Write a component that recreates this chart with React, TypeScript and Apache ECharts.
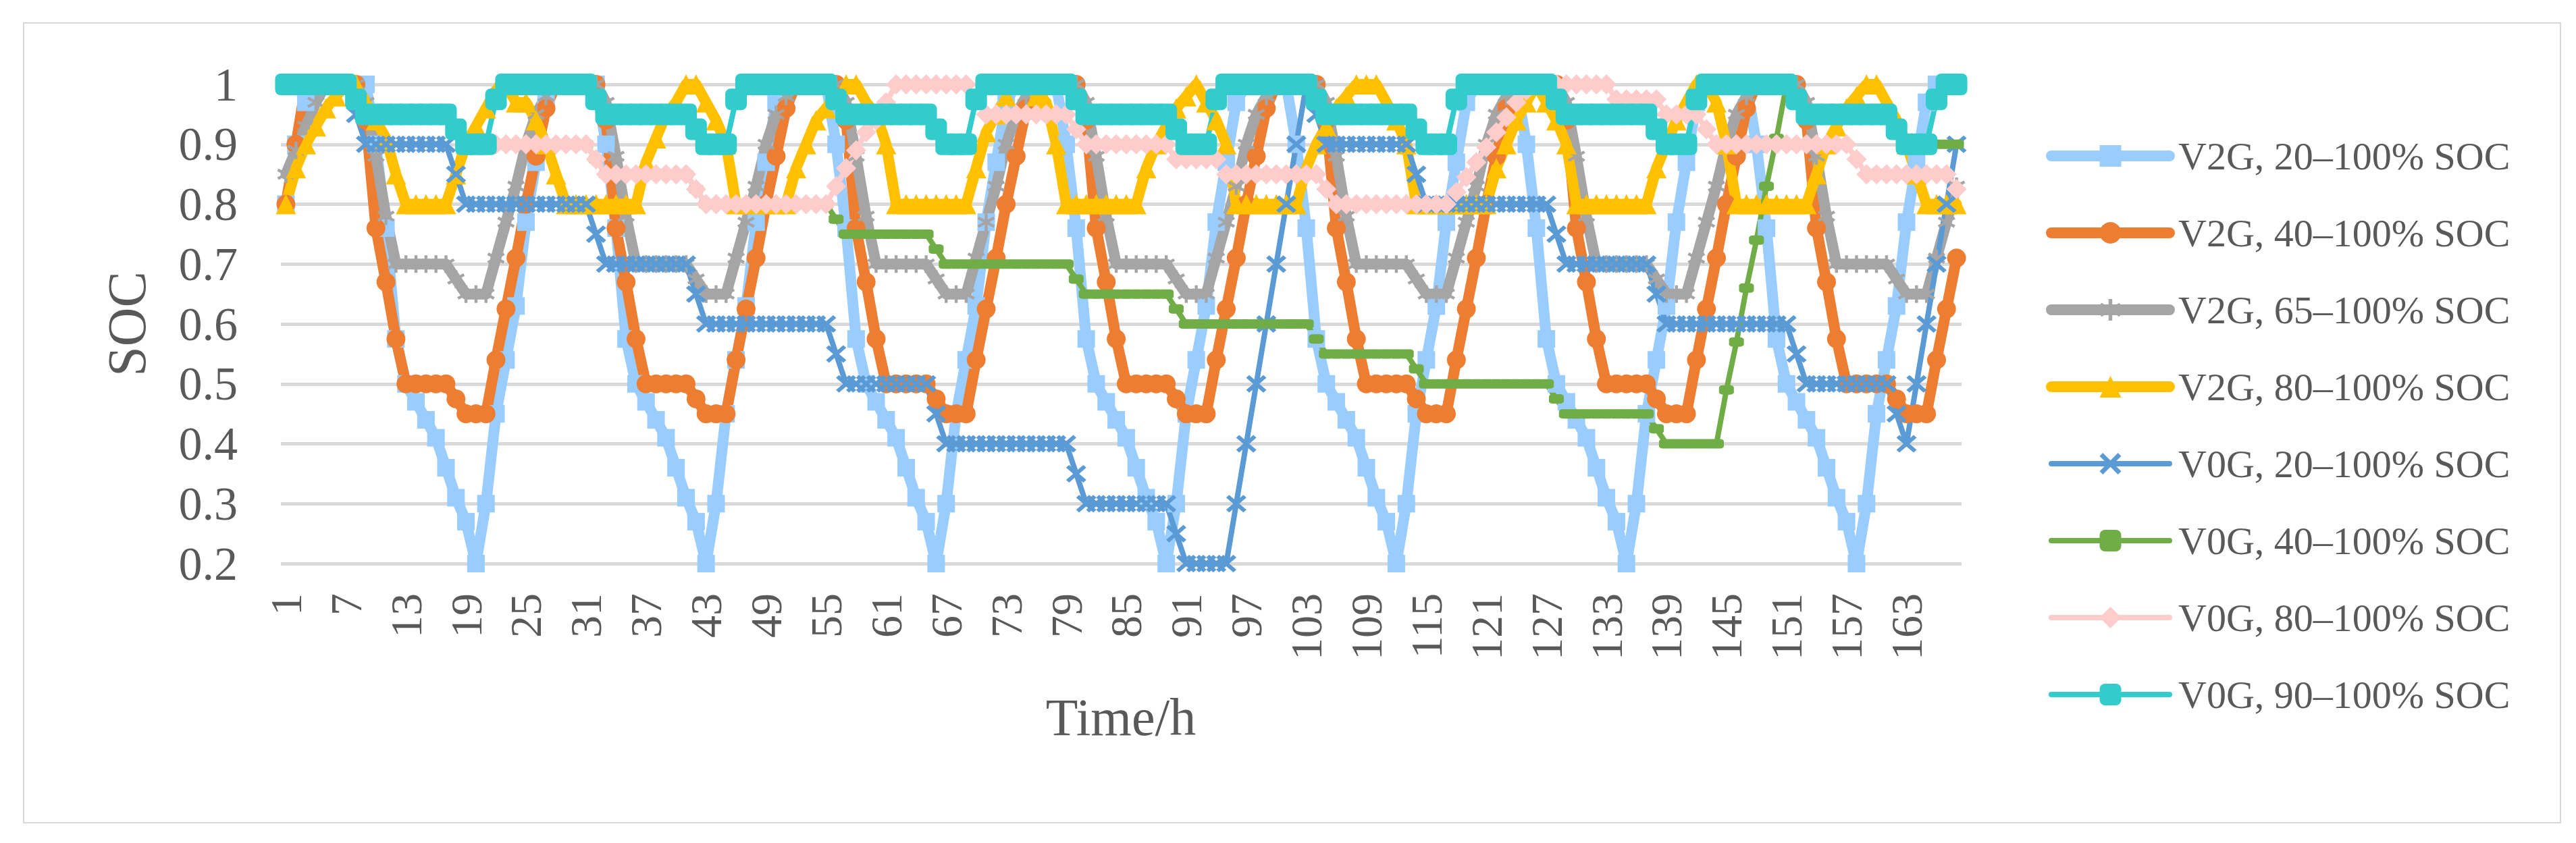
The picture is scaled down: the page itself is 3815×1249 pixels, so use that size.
import React, { useEffect, useRef } from 'react';
import * as echarts from 'echarts';

const hours = Array.from({ length: 168 }, (_, i) => String(i + 1));

const seriesNames = [
  'V2G, 20–100% SOC',
  'V2G, 40–100% SOC',
  'V2G, 65–100% SOC',
  'V2G, 80–100% SOC',
  'V0G, 20–100% SOC',
  'V0G, 40–100% SOC',
  'V0G, 80–100% SOC',
  'V0G, 90–100% SOC',
];

const v2g20 = [
  0.8, 0.9, 0.97, 1, 1, 1, 1, 1, 1,
  0.9, 0.76, 0.575, 0.5, 0.47, 0.44, 0.41, 0.36, 0.31, 0.27, 0.2, 0.3, 0.45, 0.54, 0.63, 0.77, 0.87, 0.97, 1, 1, 1, 1, 1,
  0.9, 0.76, 0.575, 0.5, 0.47, 0.44, 0.41, 0.36, 0.31, 0.27, 0.2, 0.3, 0.45, 0.54, 0.63, 0.77, 0.87, 0.97, 1, 1, 1, 1, 1,
  0.9, 0.76, 0.575, 0.5, 0.47, 0.44, 0.41, 0.36, 0.31, 0.27, 0.2, 0.3, 0.45, 0.54, 0.63, 0.77, 0.87, 0.97, 1, 1, 1, 1, 1,
  0.9, 0.76, 0.575, 0.5, 0.47, 0.44, 0.41, 0.36, 0.31, 0.27, 0.2, 0.3, 0.45, 0.54, 0.63, 0.77, 0.87, 0.97, 1, 1, 1, 1, 1,
  0.9, 0.76, 0.575, 0.5, 0.47, 0.44, 0.41, 0.36, 0.31, 0.27, 0.2, 0.3, 0.45, 0.54, 0.63, 0.77, 0.87, 0.97, 1, 1, 1, 1, 1,
  0.9, 0.76, 0.575, 0.5, 0.47, 0.44, 0.41, 0.36, 0.31, 0.27, 0.2, 0.3, 0.45, 0.54, 0.63, 0.77, 0.87, 0.97, 1, 1, 1, 1, 1,
  0.9, 0.76, 0.575, 0.5, 0.47, 0.44, 0.41, 0.36, 0.31, 0.27, 0.2, 0.3, 0.45, 0.54, 0.63, 0.77, 0.87, 0.97, 1, 1, 1,
];

const v2g40 = [
  0.8, 0.9, 1, 1, 1, 1, 1, 1,
  0.94, 0.76, 0.67, 0.575, 0.5, 0.5, 0.5, 0.5, 0.5, 0.475, 0.45, 0.45, 0.45, 0.54, 0.625, 0.71, 0.8, 0.88, 0.96, 1, 1, 1, 1, 1,
  0.94, 0.76, 0.67, 0.575, 0.5, 0.5, 0.5, 0.5, 0.5, 0.475, 0.45, 0.45, 0.45, 0.54, 0.625, 0.71, 0.8, 0.88, 0.96, 1, 1, 1, 1, 1,
  0.94, 0.76, 0.67, 0.575, 0.5, 0.5, 0.5, 0.5, 0.5, 0.475, 0.45, 0.45, 0.45, 0.54, 0.625, 0.71, 0.8, 0.88, 0.96, 1, 1, 1, 1, 1,
  0.94, 0.76, 0.67, 0.575, 0.5, 0.5, 0.5, 0.5, 0.5, 0.475, 0.45, 0.45, 0.45, 0.54, 0.625, 0.71, 0.8, 0.88, 0.96, 1, 1, 1, 1, 1,
  0.94, 0.76, 0.67, 0.575, 0.5, 0.5, 0.5, 0.5, 0.5, 0.475, 0.45, 0.45, 0.45, 0.54, 0.625, 0.71, 0.8, 0.88, 0.96, 1, 1, 1, 1, 1,
  0.94, 0.76, 0.67, 0.575, 0.5, 0.5, 0.5, 0.5, 0.5, 0.475, 0.45, 0.45, 0.45, 0.54, 0.625, 0.71, 0.8, 0.88, 0.96, 1, 1, 1, 1, 1,
  0.94, 0.76, 0.67, 0.575, 0.5, 0.5, 0.5, 0.5, 0.5, 0.475, 0.45, 0.45, 0.45, 0.54, 0.625, 0.71,
];

const v2g65 = [
  0.85, 0.89, 0.93, 0.97, 1, 1, 1, 1,
  0.97, 0.88, 0.78, 0.7, 0.7, 0.7, 0.7, 0.7, 0.7, 0.675, 0.65, 0.65, 0.65, 0.71, 0.77, 0.83, 0.9, 0.95, 0.98, 1, 1, 1, 1, 1,
  0.97, 0.88, 0.78, 0.7, 0.7, 0.7, 0.7, 0.7, 0.7, 0.675, 0.65, 0.65, 0.65, 0.71, 0.77, 0.83, 0.9, 0.95, 0.98, 1, 1, 1, 1, 1,
  0.97, 0.88, 0.78, 0.7, 0.7, 0.7, 0.7, 0.7, 0.7, 0.675, 0.65, 0.65, 0.65, 0.71, 0.77, 0.83, 0.9, 0.95, 0.98, 1, 1, 1, 1, 1,
  0.97, 0.88, 0.78, 0.7, 0.7, 0.7, 0.7, 0.7, 0.7, 0.675, 0.65, 0.65, 0.65, 0.71, 0.77, 0.83, 0.9, 0.95, 0.98, 1, 1, 1, 1, 1,
  0.97, 0.88, 0.78, 0.7, 0.7, 0.7, 0.7, 0.7, 0.7, 0.675, 0.65, 0.65, 0.65, 0.71, 0.77, 0.83, 0.9, 0.95, 0.98, 1, 1, 1, 1, 1,
  0.97, 0.88, 0.78, 0.7, 0.7, 0.7, 0.7, 0.7, 0.7, 0.675, 0.65, 0.65, 0.65, 0.71, 0.77, 0.83, 0.9, 0.95, 0.98, 1, 1, 1, 1, 1,
  0.97, 0.88, 0.78, 0.7, 0.7, 0.7, 0.7, 0.7, 0.7, 0.675, 0.65, 0.65, 0.65, 0.71, 0.77, 0.83,
];

const v2g80 = [
  0.8, 0.86, 0.9, 0.93, 0.96, 0.98, 1, 1, 0.97, 0.94, 0.91, 0.85, 0.8, 0.8, 0.8, 0.8, 0.8, 0.85, 0.9, 0.93,
  0.96, 0.99, 1, 0.97, 0.97, 0.94, 0.9, 0.85, 0.8, 0.8, 0.8, 0.8, 0.8, 0.8, 0.8, 0.8, 0.87, 0.91, 0.95, 0.97,
  1, 1, 0.97, 0.94, 0.9, 0.8, 0.8, 0.8, 0.8, 0.8, 0.8, 0.86, 0.9, 0.94, 0.96, 0.98, 1, 1, 0.97, 0.95,
  0.9, 0.8, 0.8, 0.8, 0.8, 0.8, 0.8, 0.8, 0.8, 0.86, 0.92, 0.95, 0.98, 1, 1, 0.98, 0.97, 0.9, 0.8, 0.8,
  0.8, 0.8, 0.8, 0.8, 0.8, 0.8, 0.86, 0.9, 0.93, 0.96, 0.98, 1, 0.97, 0.94, 0.9, 0.8, 0.8, 0.8, 0.8, 0.8,
  0.8, 0.8, 0.86, 0.9, 0.93, 0.96, 0.98, 1, 1, 1, 0.97, 0.94, 0.9, 0.8, 0.8, 0.8, 0.8, 0.8, 0.8, 0.8,
  0.8, 0.86, 0.9, 0.94, 0.97, 1, 0.97, 0.94, 0.9, 0.8, 0.8, 0.8, 0.8, 0.8, 0.8, 0.8, 0.8, 0.86, 0.9, 0.94,
  0.97, 1, 1, 0.97, 0.9, 0.8, 0.8, 0.8, 0.8, 0.8, 0.8, 0.8, 0.8, 0.85, 0.9, 0.93, 0.96, 0.98, 1, 1,
  0.97, 0.94, 0.9, 0.85, 0.8, 0.8, 0.8, 0.8,
];

const v0g20 = [
  1, 1, 1, 1, 1, 1, 1, 0.95, 0.9, 0.9, 0.9, 0.9, 0.9, 0.9, 0.9, 0.9, 0.9, 0.85, 0.8, 0.8,
  0.8, 0.8, 0.8, 0.8, 0.8, 0.8, 0.8, 0.8, 0.8, 0.8, 0.8, 0.75, 0.7, 0.7, 0.7, 0.7, 0.7, 0.7, 0.7, 0.7,
  0.7, 0.65, 0.6, 0.6, 0.6, 0.6, 0.6, 0.6, 0.6, 0.6, 0.6, 0.6, 0.6, 0.6, 0.6, 0.55, 0.5, 0.5, 0.5, 0.5,
  0.5, 0.5, 0.5, 0.5, 0.5, 0.45, 0.4, 0.4, 0.4, 0.4, 0.4, 0.4, 0.4, 0.4, 0.4, 0.4, 0.4, 0.4, 0.4, 0.35,
  0.3, 0.3, 0.3, 0.3, 0.3, 0.3, 0.3, 0.3, 0.3, 0.25, 0.2, 0.2, 0.2, 0.2, 0.2, 0.3, 0.4, 0.5, 0.6, 0.7,
  0.8, 0.9, 1, 0.95, 0.9, 0.9, 0.9, 0.9, 0.9, 0.9, 0.9, 0.9, 0.9, 0.85, 0.8, 0.8, 0.8, 0.8, 0.8, 0.8,
  0.8, 0.8, 0.8, 0.8, 0.8, 0.8, 0.8, 0.75, 0.7, 0.7, 0.7, 0.7, 0.7, 0.7, 0.7, 0.7, 0.7, 0.65, 0.6, 0.6,
  0.6, 0.6, 0.6, 0.6, 0.6, 0.6, 0.6, 0.6, 0.6, 0.6, 0.6, 0.55, 0.5, 0.5, 0.5, 0.5, 0.5, 0.5, 0.5, 0.5,
  0.5, 0.45, 0.4, 0.5, 0.6, 0.7, 0.8, 0.9,
];

const v0g40 = [
  1, 1, 1, 1, 1, 1, 1, 0.975, 0.95, 0.95, 0.95, 0.95, 0.95, 0.95, 0.95, 0.95, 0.95, 0.925, 0.9, 0.9,
  0.9, 0.9, 0.9, 0.9, 0.9, 0.9, 0.9, 0.9, 0.9, 0.9, 0.9, 0.875, 0.85, 0.85, 0.85, 0.85, 0.85, 0.85, 0.85, 0.85,
  0.85, 0.825, 0.8, 0.8, 0.8, 0.8, 0.8, 0.8, 0.8, 0.8, 0.8, 0.8, 0.8, 0.8, 0.8, 0.775, 0.75, 0.75, 0.75, 0.75,
  0.75, 0.75, 0.75, 0.75, 0.75, 0.725, 0.7, 0.7, 0.7, 0.7, 0.7, 0.7, 0.7, 0.7, 0.7, 0.7, 0.7, 0.7, 0.7, 0.675,
  0.65, 0.65, 0.65, 0.65, 0.65, 0.65, 0.65, 0.65, 0.65, 0.625, 0.6, 0.6, 0.6, 0.6, 0.6, 0.6, 0.6, 0.6, 0.6, 0.6,
  0.6, 0.6, 0.6, 0.575, 0.55, 0.55, 0.55, 0.55, 0.55, 0.55, 0.55, 0.55, 0.55, 0.525, 0.5, 0.5, 0.5, 0.5, 0.5, 0.5,
  0.5, 0.5, 0.5, 0.5, 0.5, 0.5, 0.5, 0.475, 0.45, 0.45, 0.45, 0.45, 0.45, 0.45, 0.45, 0.45, 0.45, 0.425, 0.4, 0.4,
  0.4, 0.4, 0.4, 0.4, 0.49, 0.57, 0.66, 0.74, 0.83, 0.91, 1, 0.975, 0.95, 0.95, 0.95, 0.95, 0.95, 0.95, 0.95, 0.95,
  0.95, 0.925, 0.9, 0.9, 0.9, 0.9, 0.9, 0.9,
];

const v0g80 = [
  1, 1, 1, 1, 1, 1, 1, 0.975, 0.95, 0.95, 0.95, 0.95, 0.95, 0.95, 0.95, 0.95, 0.95, 0.925, 0.9, 0.9,
  0.9, 0.9, 0.9, 0.9, 0.9, 0.9, 0.9, 0.9, 0.9, 0.9, 0.9, 0.875, 0.85, 0.85, 0.85, 0.85, 0.85, 0.85, 0.85, 0.85,
  0.85, 0.825, 0.8, 0.8, 0.8, 0.8, 0.8, 0.8, 0.8, 0.8, 0.8, 0.8, 0.8, 0.8, 0.8, 0.83, 0.86, 0.89, 0.92, 0.94,
  0.97, 1, 1, 1, 1, 1, 1, 1, 1, 0.975, 0.95, 0.95, 0.95, 0.95, 0.95, 0.95, 0.95, 0.95, 0.95, 0.925,
  0.9, 0.9, 0.9, 0.9, 0.9, 0.9, 0.9, 0.9, 0.9, 0.875, 0.875, 0.875, 0.875, 0.875, 0.85, 0.85, 0.85, 0.85, 0.85, 0.85,
  0.85, 0.85, 0.85, 0.85, 0.825, 0.8, 0.8, 0.8, 0.8, 0.8, 0.8, 0.8, 0.8, 0.8, 0.8, 0.8, 0.8, 0.82, 0.845, 0.87,
  0.895, 0.92, 0.945, 0.97, 0.99, 1, 1, 1, 1, 1, 1, 1, 1, 0.975, 0.975, 0.975, 0.975, 0.975, 0.95, 0.95,
  0.95, 0.95, 0.925, 0.9, 0.9, 0.9, 0.9, 0.9, 0.9, 0.9, 0.9, 0.9, 0.9, 0.9, 0.9, 0.9, 0.9, 0.875, 0.85, 0.85,
  0.85, 0.85, 0.85, 0.85, 0.85, 0.85, 0.85, 0.825,
];

const v0g90 = [
  1, 1, 1, 1, 1, 1, 1, 0.975, 0.95, 0.95, 0.95, 0.95, 0.95, 0.95, 0.95, 0.95, 0.95, 0.925, 0.9, 0.9, 0.9, 0.975, 1, 1,
  1, 1, 1, 1, 1, 1, 1, 0.975, 0.95, 0.95, 0.95, 0.95, 0.95, 0.95, 0.95, 0.95, 0.95, 0.925, 0.9, 0.9, 0.9, 0.975, 1, 1,
  1, 1, 1, 1, 1, 1, 1, 0.975, 0.95, 0.95, 0.95, 0.95, 0.95, 0.95, 0.95, 0.95, 0.95, 0.925, 0.9, 0.9, 0.9, 0.975, 1, 1,
  1, 1, 1, 1, 1, 1, 1, 0.975, 0.95, 0.95, 0.95, 0.95, 0.95, 0.95, 0.95, 0.95, 0.95, 0.925, 0.9, 0.9, 0.9, 0.975, 1, 1,
  1, 1, 1, 1, 1, 1, 1, 0.975, 0.95, 0.95, 0.95, 0.95, 0.95, 0.95, 0.95, 0.95, 0.95, 0.925, 0.9, 0.9, 0.9, 0.975, 1, 1,
  1, 1, 1, 1, 1, 1, 1, 0.975, 0.95, 0.95, 0.95, 0.95, 0.95, 0.95, 0.95, 0.95, 0.95, 0.925, 0.9, 0.9, 0.9, 0.975, 1, 1,
  1, 1, 1, 1, 1, 1, 1, 0.975, 0.95, 0.95, 0.95, 0.95, 0.95, 0.95, 0.95, 0.95, 0.95, 0.925, 0.9, 0.9, 0.9, 0.975, 1, 1,
];

const seriesValues = [v2g20, v2g40, v2g65, v2g80, v0g20, v0g40, v0g80, v0g90];
const colors = ['#99CCFF', '#ED7D31', '#A5A5A5', '#FFC000', '#5B9BD5', '#70AD47', '#FFCCCC', '#33CCCC'];

const X_PATH = 'path://M0,1.5 L1.5,0 L5,3.5 L8.5,0 L10,1.5 L6.5,5 L10,8.5 L8.5,10 L5,6.5 L1.5,10 L0,8.5 L3.5,5 Z';
const STAR_PATH = 'path://M4.2,0 H5.8 V3.6 L8.9,1.8 L9.7,3.2 L6.6,5 L9.7,6.8 L8.9,8.2 L5.8,6.4 V10 H4.2 V6.4 L1.1,8.2 L0.3,6.8 L3.4,5 L0.3,3.2 L1.1,1.8 L4.2,3.6 Z';

const symbols = ['rect', 'circle', STAR_PATH, 'triangle', X_PATH, 'roundRect', 'diamond', 'roundRect'];
const symbolSizes: any[] = [26, 28, 26, 30, [30, 26], [22, 14], 30, 32];
const lineWidths = [16, 16, 16, 16, 8, 8, 8, 8];

const FONT = '"Liberation Serif", "Times New Roman", serif';
const TEXT = '#595959';

export default function App() {
  const ref = useRef<HTMLDivElement>(null);
  useEffect(() => {
    if (!ref.current) return;
    const chart = echarts.init(ref.current, undefined, { renderer: 'svg' });
    const option: any = {
      animation: false,
      backgroundColor: '#ffffff',
      grid: { left: 416, right: 910, top: 125, bottom: 414, containLabel: false, outerBoundsMode: 'none' },
      xAxis: {
        type: 'category',
        data: hours,
        boundaryGap: true,
        axisLine: { show: false },
        axisTick: { show: false },
        axisLabel: {
          interval: 5,
          rotate: 90,
          margin: 44,
          fontFamily: FONT,
          fontSize: 66,
          color: TEXT,
        },
        splitLine: { show: false },
      },
      yAxis: {
        type: 'value',
        min: 0.2,
        max: 1,
        interval: 0.1,
        axisLine: { show: false },
        axisTick: { show: false },
        axisLabel: {
          margin: 64,
          fontFamily: FONT,
          fontSize: 70,
          color: TEXT,
          formatter: (v: number) => String(Math.round(v * 10) / 10),
        },
        splitLine: { lineStyle: { color: '#D9D9D9', width: 5 } },
      },
      legend: {
        orient: 'vertical',
        left: 3025,
        top: 197,
        itemWidth: 175,
        itemHeight: 40,
        itemGap: 56,
        textStyle: { fontFamily: FONT, fontSize: 58, color: TEXT, padding: [0, 0, 0, 8] },
        data: seriesNames.map((n, k) => ({
          name: n,
          lineStyle: { width: lineWidths[k], cap: 'round' },
        })),
      },
      graphic: [
        {
          type: 'rect',
          shape: { x: 35, y: 34, width: 3757, height: 1185 },
          style: { fill: 'none', stroke: '#D9D9D9', lineWidth: 2 },
          z: -10,
        },
        {
          type: 'text',
          x: 188,
          y: 480,
          rotation: Math.PI / 2,
          style: {
            text: 'SOC',
            font: '80px ' + FONT,
            fill: TEXT,
            textAlign: 'center',
            textVerticalAlign: 'middle',
            align: 'center',
            verticalAlign: 'middle',
          },
        },
        {
          type: 'text',
          x: 1660,
          y: 1062,
          style: {
            text: 'Time/h',
            font: '78px ' + FONT,
            fill: TEXT,
            textAlign: 'center',
            textVerticalAlign: 'middle',
            align: 'center',
            verticalAlign: 'middle',
          },
        },
      ],
      series: seriesNames.map((name, k) => ({
        name,
        type: 'line',
        data: seriesValues[k],
        symbol: symbols[k],
        symbolSize: symbolSizes[k],
        showSymbol: true,
        showAllSymbol: true,
        color: colors[k],
        itemStyle: { color: colors[k] },
        lineStyle: { color: colors[k], width: lineWidths[k], cap: 'round', join: 'round' },
        emphasis: { disabled: true },
        silent: true,
      })),
    };
    chart.setOption(option);
    return () => chart.dispose();
  }, []);
  return (
    <div
      ref={ref}
      style={{ position: 'absolute', left: 0, top: 0, width: 3815, height: 1249, background: '#fff' }}
    />
  );
}
